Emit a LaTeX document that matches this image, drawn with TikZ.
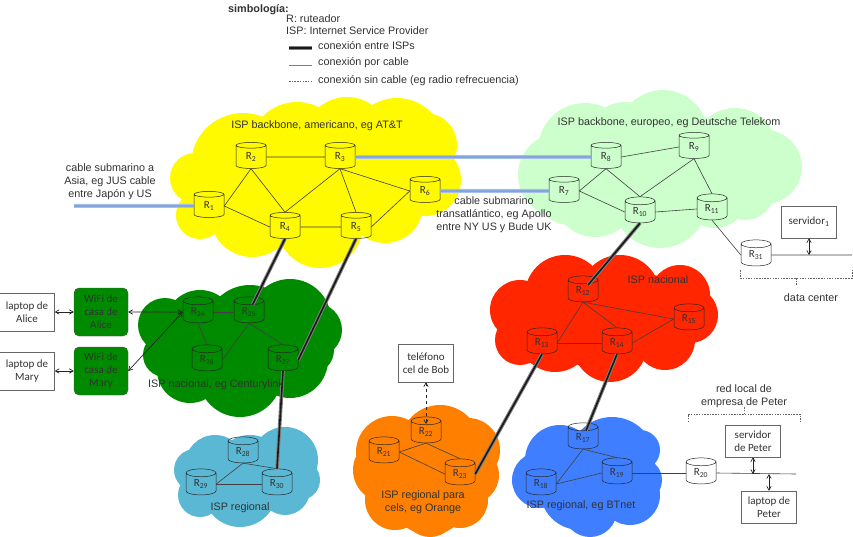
\documentclass[tikz,border=0pt]{standalone}
\usepackage{fontspec}
\setmainfont{Liberation Sans}
\newfontfamily\calibrifont{Carlito}
\usepackage{tikz}
\usetikzlibrary{shapes.geometric,arrows,positioning,calc}
\definecolor{yellowcloud}{RGB}{255, 250, 0}
\definecolor{mintcloud}{RGB}{204, 255, 204}
\definecolor{redcloud}{RGB}{255, 38, 0}
\definecolor{greencloud}{RGB}{0, 138, 0}
\definecolor{tealcloud}{RGB}{91, 184, 212}
\definecolor{orangecloud}{RGB}{255, 128, 0}
\definecolor{bluecloud}{RGB}{63, 127, 255}
\definecolor{inktext}{RGB}{50, 50, 50}
\definecolor{seacable}{RGB}{130, 165, 220}

\begin{document}
\begin{tikzpicture}[
    x=1pt, y=-1pt,
    every node/.style={text=inktext},
    router/.style={cylinder, draw=black!85, line width=0.5pt, shape border rotate=90, aspect=0.55, minimum width=30pt, minimum height=26pt, inner sep=0pt, font=\calibrifont\fontsize{11}{11}\selectfont},
    whiterouter/.style={router, cylinder uses custom fill, cylinder body fill=white, cylinder end fill=white},
    device/.style={rectangle, draw=black!60, fill=white, minimum width=55pt, minimum height=32pt, align=center, inner sep=1pt, font=\calibrifont\fontsize{11}{13}\selectfont},
    tallbox/.style={device, minimum height=38pt},
    wifi/.style={rectangle, draw=black!70, fill=greencloud, rounded corners=5pt, minimum width=54pt, minimum height=48pt, align=center, inner sep=1pt, font=\calibrifont\fontsize{11}{13}\selectfont},
    caption/.style={align=center, font=\fontsize{10.8}{13}\selectfont, inner sep=0pt},
    legendtext/.style={anchor=west, font=\fontsize{10.8}{12}\selectfont, inner sep=0pt},
    cable/.style={draw=black!75, line width=0.6pt},
    isplink/.style={preaction={draw, black!50, line width=3.6pt}, draw=black!90, line width=1.6pt},
    sealink/.style={preaction={draw, seacable!70, line width=4pt}, draw=seacable, line width=1.8pt},
    bothways/.style={<->, >=angle 60, draw=black!85, line width=0.7pt},
    bracket/.style={draw=black!60, dashed, dash pattern=on 1.5pt off 1.2pt, line width=0.6pt}
]
\useasboundingbox (0,0) rectangle (853,537);

% Clouds
\foreach \cx/\cy/\r in {243/165/52, 195/178/25, 200/215/24, 252/215/42, 320/225/43, 297/150/48, 347/140/43, 397/145/47, 425/145/32, 425/180/36, 385/205/38, 330/180/60}
    \fill[yellowcloud] (\cx,\cy) circle [radius=\r pt];
\foreach \cx/\cy/\r in {560/175/42, 585/150/47, 625/140/38, 663/135/45, 735/150/42, 765/167/37, 745/190/30, 715/195/33, 660/200/48, 595/195/42, 570/190/35, 690/160/45}
    \fill[mintcloud] (\cx,\cy) circle [radius=\r pt];
\foreach \cx/\cy/\r in {520/310/30, 520/340/25, 555/335/37, 610/345/37, 665/340/30, 690/315/28, 680/295/30, 620/295/40, 565/295/40, 600/320/50, 650/315/40}
    \fill[redcloud] (\cx,\cy) circle [radius=\r pt];
\foreach \cx/\cy/\r in {165/325/27, 200/325/35, 250/330/45, 290/320/41, 315/330/27, 165/355/22, 190/370/33, 240/375/42, 290/360/38, 310/350/24}
    \fill[greencloud] (\cx,\cy) circle [radius=\r pt];
\foreach \cx/\cy/\r in {195/470/21, 215/465/30, 250/470/35, 285/460/33, 300/480/20, 240/490/37, 285/490/25, 200/495/22}
    \fill[tealcloud] (\cx,\cy) circle [radius=\r pt];
\foreach \cx/\cy/\r in {392/452/36, 385/470/32, 440/445/40, 468/450/32, 470/475/29, 395/500/30, 430/495/40, 460/500/28, 430/510/27}
    \fill[orangecloud] (\cx,\cy) circle [radius=\r pt];
\foreach \cx/\cy/\r in {540/480/28, 560/460/35, 612/460/43, 640/480/22, 640/450/20, 580/490/40, 590/510/27, 630/495/30}
    \fill[bluecloud] (\cx,\cy) circle [radius=\r pt];

% Routers
\node[router] (r1) at (209,206) {R\textsubscript{1}};
\node[router] (r2) at (251,157) {R\textsubscript{2}};
\node[router] (r3) at (340,157) {R\textsubscript{3}};
\node[router] (r4) at (285,227) {R\textsubscript{4}};
\node[router] (r5) at (356,227) {R\textsubscript{5}};
\node[router] (r6) at (425,191) {R\textsubscript{6}};
\node[router] (r7) at (564,191) {R\textsubscript{7}};
\node[router] (r8) at (606,157) {R\textsubscript{8}};
\node[router] (r9) at (694,147) {R\textsubscript{9}};
\node[router] (r10) at (640,212) {R\textsubscript{10}};
\node[router] (r11) at (712,209) {R\textsubscript{11}};
\node[router] (r12) at (583,291) {R\textsubscript{12}};
\node[router] (r13) at (542,343) {R\textsubscript{13}};
\node[router] (r14) at (617,343) {R\textsubscript{14}};
\node[router] (r15) at (689,319) {R\textsubscript{15}};
\node[router] (r17) at (583,438) {R\textsubscript{17}};
\node[router] (r18) at (541,484) {R\textsubscript{18}};
\node[router] (r19) at (617,473) {R\textsubscript{19}};
\node[whiterouter] (r20) at (701,473) {R\textsubscript{20}};
\node[router] (r21) at (384,452) {R\textsubscript{21}};
\node[router] (r22) at (426,432) {R\textsubscript{22}};
\node[router] (r23) at (460,474) {R\textsubscript{23}};
\node[router] (r24) at (198,312) {R\textsubscript{24}};
\node[router] (r25) at (249,312) {R\textsubscript{25}};
\node[router] (r26) at (207,360) {R\textsubscript{26}};
\node[router] (r27) at (283,360) {R\textsubscript{27}};
\node[router] (r28) at (243,452) {R\textsubscript{28}};
\node[router] (r29) at (201,484) {R\textsubscript{29}};
\node[router] (r30) at (277,484) {R\textsubscript{30}};
\node[whiterouter] (r31) at (756,255) {R\textsubscript{31}};

% Hosts
\node[tallbox] (alice) at (27,312) {laptop de\\Alice};
\node[tallbox] (mary) at (27,371) {laptop de\\Mary};
\node[wifi] (wifialice) at (101,312) {WiFi de\\casa de\\Alice};
\node[wifi] (wifimary) at (101,371) {WiFi de\\casa de\\Mary};
\node[tallbox] (telefono) at (426,363) {teléfono\\cel de Bob};
\node[device] (servidor) at (809,222) {servidor\textsubscript{1}};
\node[device] (servpeter) at (753,441) {servidor\\de Peter};
\node[device] (lappeter) at (769,507) {laptop de\\Peter};

% Free ends of the cables
\coordinate (asia) at (74,206);
\coordinate (dcend) at (852,255);
\coordinate (lanend) at (796,474);
\coordinate (dctap) at (809,255);
\coordinate (lantapa) at (753,474);
\coordinate (lantapb) at (769,474);

% Links inside the clouds
\draw[cable] (r1.east) -- (r2.south);
\draw[cable] (r1.east) -- (r4.west);
\draw[cable] (r2.south) -- (r4.north);
\draw[cable] (r2.east) -- (r3.west);
\draw[cable] (r3.south) -- (r4.north);
\draw[cable] (r3.south) -- (r5.north);
\draw[cable] (r3.south) -- (r6.west);
\draw[cable] (r4.east) -- (r5.west);
\draw[cable] (r5.east) -- (r6.west);
\draw[cable] (r7.east) -- (r8.south);
\draw[cable] (r7.east) -- (r10.west);
\draw[cable] (r8.south) -- (r10.north);
\draw[cable] (r8.east) -- (r9.west);
\draw[cable] (r9.south) -- (r10.north);
\draw[cable] (r9.south) -- (r11.north);
\draw[cable] (r10.east) -- (r11.west);
\draw[cable] (r11.south) -- (r31.west);
\draw[cable] (r12.south) -- (r13.east);
\draw[cable] (r12.south) -- (r14.north);
\draw[cable] (r12.south) -- (r15.west);
\draw[cable] (r13.east) -- (r14.west);
\draw[cable] (r14.east) -- (r15.west);
\draw[cable] (r17.south) -- (r18.east);
\draw[cable] (r17.south) -- (r19.north);
\draw[cable] (r18.east) -- (r19.west);
\draw[cable] (r19.east) -- (r20.west);
\draw[cable] (r21.east) -- (r22.south);
\draw[cable] (r21.east) -- (r23.west);
\draw[cable] (r22.south) -- (r23.north);
\draw[cable] (r24.east) -- (r25.west);
\draw[cable] (r24.south) -- (r26.north);
\draw[cable] (r25.south) -- (r26.east);
\draw[cable] (r25.south) -- (r27.north);
\draw[cable] (r28.south) -- (r29.east);
\draw[cable] (r28.south) -- (r30.north);
\draw[cable] (r29.east) -- (r30.west);
\draw[cable] (r31.east) -- (dcend);
\draw[cable] (r20.east) -- (lanend);

% Links between ISPs
\draw[isplink, shorten >=8pt] (r4.south) -- (r25.center);
\draw[isplink] (r5.south) -- (r27.east);
\draw[isplink] (r27.south) -- (r30.north);
\draw[isplink, shorten >=8pt] (r10.south) -- (r12.center);
\draw[isplink] (r13.south) -- (r23.east);
\draw[isplink, shorten >=8pt] (r14.south) -- (r17.center);
\draw[sealink] (asia) -- (r1.west);
\draw[sealink] (r3.east) -- (r8.west);
\draw[sealink] (r6.east) -- (r7.west);

% Hosts to routers
\draw[bothways] (alice.east) -- (wifialice.west);
\draw[bothways] (mary.east) -- (wifimary.west);
\draw[bothways] (wifialice.east) -- (r24.west);
\draw[bothways] (wifimary.east) -- (r24.west);
\draw[bothways, dashed, shorten >=8pt] (telefono.south) -- (r22.center);
\draw[bothways] (servidor.south) -- (dctap);
\draw[bothways] (servpeter.south) -- (lantapa);
\draw[bothways] (lappeter.north) -- (lantapb);

% Brackets
\coordinate (dcbrk) at (796,278);
\draw[bracket] (740,270) |- (852,278) -- (852,270);
\draw[bracket] (dcbrk) -- ++(0,7);
\coordinate (lanbrk) at (744,414);
\draw[bracket] (688,422) |- (800,414) -- (800,422);
\draw[bracket] (lanbrk) -- ++(0,-8);

% Cloud labels
\node[caption] (lblatt) at (317,126) {ISP backbone, americano, eg AT\&T};
\node[caption] (lbldt) at (669,123) {ISP backbone, europeo, eg Deutsche Telekom};
\node[caption] (lblnac) at (658,280) {ISP nacional};
\node[caption] (lblcl) at (216,385) {ISP nacional, eg Centurylink};
\node[caption] (lblreg) at (240,508) {ISP regional};
\node[caption] (lblor) at (423,502) {ISP regional para\\cels, eg Orange};
\node[caption] (lblbt) at (581,506) {ISP regional, eg BTnet};

% Free labels
\node[caption] (lblasia) at (110,182) {cable submarino a\\Asia, eg JUS cable\\entre Japón y US};
\node[caption] (lblapollo) at (494,215) {cable submarino\\transatlántico, eg Apollo\\entre NY US y Bude UK};
\node[caption] (lbldc) at (811,298) {data center};
\node[caption] (lbllan) at (744,396) {red local de\\empresa de Peter};

% Legend
\node[legendtext, font=\fontsize{10.8}{12}\selectfont\bfseries] (lgtitle) at (228,10) {simbología:};
\node[legendtext] (lgr) at (286,19) {R: ruteador};
\node[legendtext] (lgisp) at (286,31) {ISP: Internet Service Provider};
\node[legendtext] (lgthick) at (318,46) {conexión entre ISPs};
\node[legendtext] (lgthin) at (318,63) {conexión por cable};
\node[legendtext] (lgdash) at (318,81) {conexión sin cable (eg radio refrecuencia)};
\coordinate (lga) at (289,48);
\coordinate (lgb) at (312,48);
\coordinate (lgc) at (289,65);
\coordinate (lgd) at (312,65);
\coordinate (lge) at (289,81);
\coordinate (lgf) at (312,81);
\draw[isplink] (lga) -- (lgb);
\draw[draw=black!50, line width=0.6pt] (lgc) -- (lgd);
\draw[bracket] (lge) -- (lgf);

\end{tikzpicture}
\end{document}
